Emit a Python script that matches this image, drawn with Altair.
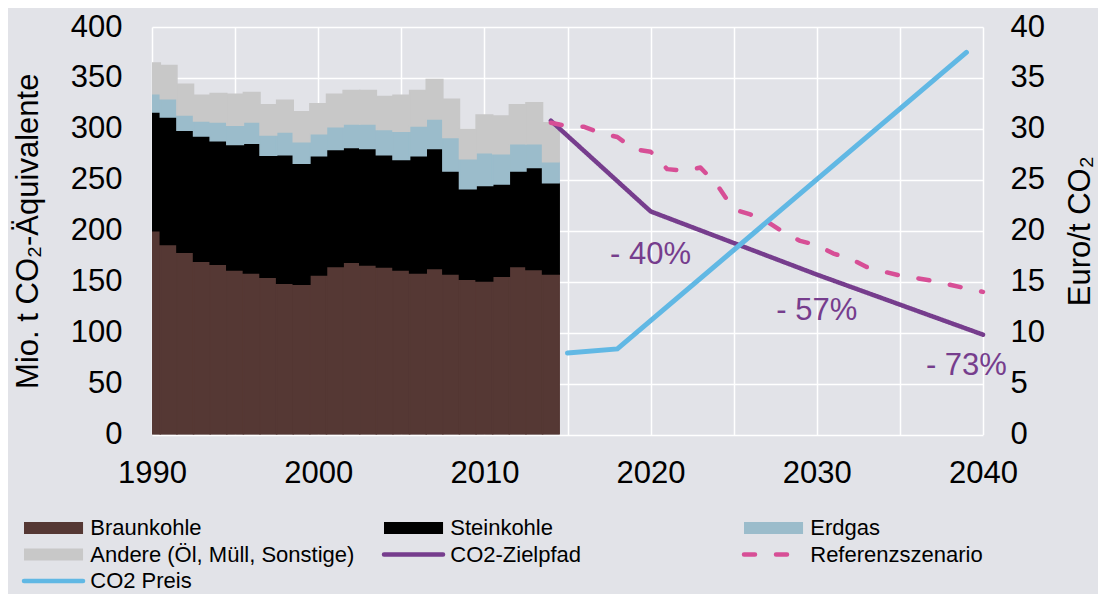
import altair as alt
import pandas as pd

FONT = "Liberation Sans"
BG = "#E2E3E8"

# ---------------- data ----------------
years = list(range(1990, 2015))
braunkohle = [200, 186.5, 179, 170, 167, 161.5, 158.5, 154.3, 148.5, 147.5, 156.6, 165, 169,
              166.3, 164.4, 161.5, 158.5, 163, 157.6, 152.4, 150.7, 155.3, 165, 162, 157.6]
steinkohle = [116.6, 125.2, 119.7, 122.9, 121.3, 123.2, 127.5, 119.7, 126.1, 118.7, 117.1, 114.8,
              112.8, 114.5, 110.2, 108.5, 115.2, 117.8, 101.1, 88.8, 93.7, 90.7, 93.7, 100, 89.4]
erdgas = [17.9, 17.9, 15, 14.9, 18.5, 18.9, 20.8, 20.1, 22.4, 21.1, 21.4, 22.2, 23.1, 24.1, 24.7,
          27.7, 29.2, 29, 32.8, 29.5, 32.2, 29.6, 26.7, 23.4, 20.8]
andere = [30.2, 32.5, 30.2, 25.1, 28, 30.3, 29, 29.6, 31, 29.6, 29.6, 31.9, 32.8, 32.8, 32.6, 35.2,
          34.8, 38.7, 37.5, 28.6, 37.1, 37.1, 38.3, 40.2, 38.3]

ziel_years = [2014, 2020, 2030, 2040]
ziel_values = [308, 219, 157, 98]

ref_years = list(range(2014, 2041))
ref_values = [306, 302.5, 302, 296, 292, 280, 277.6, 260.5, 259, 262, 245, 221, 216, 209, 198.5,
              190, 186, 177.6, 172.7, 164.4, 160, 156, 153.5, 150.7, 147, 143.4, 140]

price_years = [2015, 2018, 2039]
price_values = [8.0, 8.4, 37.5]

ann_text = ["- 40%", "- 57%", "- 73%"]
ann_year = [2020, 2030, 2039]
ann_value = [176, 121, 67]

area_names = ["Braunkohle", "Steinkohle", "Erdgas", "Andere (Öl, Müll, Sonstige)"]
line_names = ["CO2-Zielpfad", "Referenzszenario", "CO2 Preis"]
all_names = area_names + line_names
all_colors = ["#553834", "#000000", "#9BBCCB", "#C8C8C8", "#763D8D", "#D74F96", "#61B8E4"]

# ---------------- tables ----------------
area_df = pd.concat([
    pd.DataFrame({"year": years, "value": vals, "source": name, "order": i})
    for i, (name, vals) in enumerate(zip(area_names, [braunkohle, steinkohle, erdgas, andere]))
], ignore_index=True)

lines_df = pd.concat([
    pd.DataFrame({"year": ziel_years, "value": ziel_values, "series": "CO2-Zielpfad"}),
    pd.DataFrame({"year": ref_years, "value": ref_values, "series": "Referenzszenario"}),
], ignore_index=True)

price_df = pd.DataFrame({"year": price_years, "price": price_values, "series": "CO2 Preis"})
ann_df = pd.DataFrame({"text": ann_text, "year": ann_year, "value": ann_value})

leg_df = pd.DataFrame({
    "label": all_names,
    "kind": ["fill"] * 4 + ["line"] * 3,
    "idx": list(range(len(all_names))),
})

color_scale = alt.Scale(domain=all_names, range=all_colors)
x_scale = alt.Scale(domain=[1990, 2040], nice=False, zero=False)
y_scale = alt.Scale(domain=[0, 400], nice=False)

x_axis = alt.Axis(values=list(range(1990, 2041, 5)), format="d",
                  labelExpr="datum.value % 10 == 0 ? datum.label : ''",
                  grid=True, gridColor="white", gridWidth=1.5, ticks=False, domain=False,
                  labelPadding=24, labelOverlap=False, labelFlush=False, title=None)
y_axis = alt.Axis(values=list(range(0, 401, 50)), grid=True, gridColor="white", gridWidth=1.5,
                  ticks=False, domain=False, labelPadding=30, labelOverlap=False,
                  title="Mio. t CO₂-Äquivalente", titlePadding=26)

bars = alt.Chart(area_df).transform_stack(
    stack="value", groupby=["year"], sort=[alt.SortField(field="order", order="ascending")],
    as_=["y0", "y1"]
).transform_calculate(
    xa="datum.year - 0.5", xb="datum.year + 0.5"
).mark_rect(clip=True, strokeWidth=1.5, strokeJoin="miter").encode(
    x=alt.X("xa:Q", scale=x_scale, axis=x_axis),
    x2="xb:Q",
    y=alt.Y("y0:Q", scale=y_scale, axis=y_axis),
    y2="y1:Q",
    color=alt.Color("source:N", scale=color_scale, legend=None),
    stroke=alt.Stroke("source:N", scale=color_scale, legend=None),
)

lines = alt.Chart(lines_df).mark_line(strokeWidth=4.5, strokeCap="round", strokeJoin="round").encode(
    x=alt.X("year:Q", scale=x_scale),
    y=alt.Y("value:Q", scale=y_scale),
    color=alt.Color("series:N", scale=color_scale, legend=None),
    strokeDash=alt.StrokeDash("series:N", scale=alt.Scale(domain=["CO2-Zielpfad", "Referenzszenario"],
                                                          range=[[1, 0], [11, 21]]), legend=None),
)

labels = alt.Chart(ann_df).mark_text(font=FONT, fontSize=31, color="#763D8D",
                                     align="center", baseline="middle").encode(
    x=alt.X("year:Q", scale=x_scale),
    y=alt.Y("value:Q", scale=y_scale),
    text="text:N",
)

main = alt.layer(bars, lines, labels)

price = alt.Chart(price_df).mark_line(strokeWidth=5, strokeCap="round", color="#61B8E4").encode(
    x=alt.X("year:Q", scale=x_scale, axis=None),
    y=alt.Y("price:Q", scale=alt.Scale(domain=[0, 40], nice=False),
            axis=alt.Axis(orient="right", values=list(range(0, 41, 5)), grid=False, ticks=False,
                          domain=False, labelPadding=27, labelOverlap=False,
                          title="Euro/t CO₂", titleAngle=270, titleBaseline="top",
                          titlePadding=21)),
)

# ---------------- legend (3 columns) ----------------
leg_base = alt.Chart(leg_df).transform_calculate(
    col="datum.idx % 3", row="floor(datum.idx / 3)"
).transform_calculate(
    col_end="datum.col + 0.164", col_text="datum.col + 0.184"
)
leg_x = alt.Scale(domain=[0, 3], range=[-128, 952])
leg_y = alt.Scale(domain=[0, 2], range=[501, 554])

leg_fill = leg_base.transform_filter("datum.kind == 'fill'").mark_rule(strokeWidth=12, strokeCap="butt").encode(
    x=alt.X("col:Q", scale=leg_x, axis=None),
    x2="col_end:Q",
    y=alt.Y("row:Q", scale=leg_y, axis=None),
    color=alt.Color("label:N", scale=color_scale, legend=None),
)
leg_line = leg_base.transform_filter("datum.kind == 'line'").mark_rule(strokeWidth=4.5, strokeCap="round").encode(
    x=alt.X("col:Q", scale=leg_x, axis=None),
    x2="col_end:Q",
    y=alt.Y("row:Q", scale=leg_y, axis=None),
    color=alt.Color("label:N", scale=color_scale, legend=None),
    strokeDash=alt.StrokeDash("label:N", scale=alt.Scale(domain=line_names,
                                                         range=[[1, 0], [11, 21], [1, 0]]), legend=None),
)
leg_text = leg_base.mark_text(font=FONT, fontSize=22, align="left", baseline="middle", color="black").encode(
    x=alt.X("col_text:Q", scale=leg_x, axis=None),
    y=alt.Y("row:Q", scale=leg_y, axis=None),
    text="label:N",
)

chart = alt.layer(main, price, leg_fill, leg_line, leg_text).resolve_scale(
    x="independent", y="independent"
).properties(
    width=831, height=407.5,
    padding={"left": 144, "top": 19, "right": 115, "bottom": 159.5},
    autosize=alt.AutoSizeParams(type="none"),
    background=BG,
).configure_view(stroke=None).configure_axis(
    labelFont=FONT, titleFont=FONT, labelFontSize=31, titleFontSize=31,
    labelColor="black", titleColor="black", titleFontWeight="normal",
)

chart.save("out.html", embed_options={"renderer": "svg", "actions": False})
